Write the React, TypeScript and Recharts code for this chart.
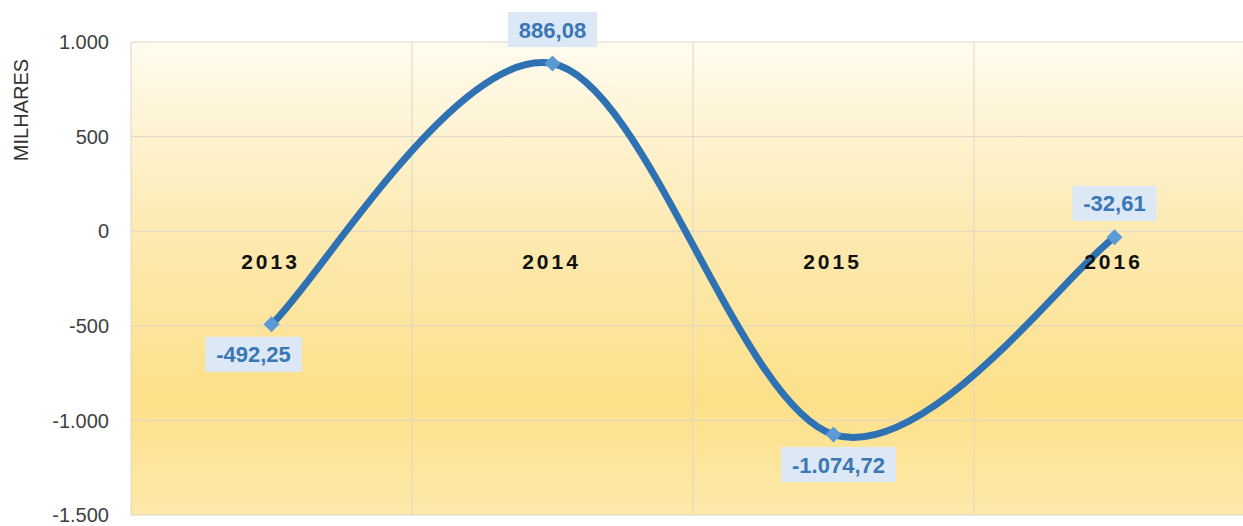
import React from 'react';
import { LineChart, Line, XAxis, YAxis, CartesianGrid, ReferenceDot, LabelList } from 'recharts';

const years = ['2013', '2014', '2015', '2016'];
const saldo = [-492.25, 886.08, -1074.72, -32.61];
const yTicks = [-1500, -1000, -500, 0, 500, 1000];

const data = years.map((year, i) => ({ year, pos: i + 0.5, saldo: saldo[i] }));

const FONT = '"Liberation Sans", Arial, sans-serif';

// pt-BR style: 1.000 / -1.074,72
const thousands = (s: string) => s.replace(/\B(?=(\d{3})+(?!\d))/g, '.');
const fmtTick = (v: number) => (v < 0 ? '-' : '') + thousands(String(Math.abs(v)));
const fmtValue = (v: number) => {
  const [int, dec] = Math.abs(v).toFixed(2).split('.');
  return (v < 0 ? '-' : '') + thousands(int) + ',' + dec;
};

// rough text width for bold Arial-like digits
const textWidth = (s: string, size: number) =>
  s.split('').reduce((w, c) => w + (/\d/.test(c) ? 0.556 : c === '-' ? 0.333 : 0.278), 0) * size;

// Catmull-Rom curve, close to Excel's "smoothed line"
const smoothCurve = (context: any) => {
  let pts: number[][] = [];
  return {
    areaStart() {},
    areaEnd() {},
    lineStart() {
      pts = [];
    },
    point(x: number, y: number) {
      pts.push([+x, +y]);
    },
    lineEnd() {
      const n = pts.length;
      if (!n) return;
      context.moveTo(pts[0][0], pts[0][1]);
      for (let i = 0; i < n - 1; i++) {
        const p0 = pts[Math.max(i - 1, 0)];
        const p1 = pts[i];
        const p2 = pts[i + 1];
        const p3 = pts[Math.min(i + 2, n - 1)];
        context.bezierCurveTo(
          p1[0] + (p2[0] - p0[0]) / 6,
          p1[1] + (p2[1] - p0[1]) / 6,
          p2[0] - (p3[0] - p1[0]) / 6,
          p2[1] - (p3[1] - p1[1]) / 6,
          p2[0],
          p2[1]
        );
      }
    },
  };
};

const Diamond = (props: any) => {
  const { cx, cy } = props;
  if (cx == null || cy == null) return null;
  const r = 8;
  return (
    <path
      d={`M${cx},${cy - r}L${cx + r},${cy}L${cx},${cy + r}L${cx - r},${cy}Z`}
      fill="#5b9bd5"
    />
  );
};

const ValueLabel = (props: any) => {
  const { x, y, index, value } = props;
  const prev = saldo[index - 1];
  const next = saldo[index + 1];
  // peaks get the label above, valleys below
  const above = (prev === undefined || value > prev) && (next === undefined || value > next);
  const text = fmtValue(value);
  const w = textWidth(text, 22) + 22;
  const h = 35;
  const cx = x + (index === 0 ? -18 : index === 2 ? 5 : 0);
  const cy = above ? y - 34 : y + 30;
  return (
    <g>
      <rect x={cx - w / 2} y={cy - h / 2} width={w} height={h} fill="#dce8f5" />
      <text
        x={cx}
        y={cy + 8}
        textAnchor="middle"
        fontFamily={FONT}
        fontSize={22}
        fontWeight="bold"
        fill="#3a77b4"
      >
        {text}
      </text>
    </g>
  );
};

const YearTick = (props: any) => {
  const { cx, cy, label } = props;
  return (
    <text
      x={cx - 1}
      y={cy + 38}
      textAnchor="middle"
      fontFamily={FONT}
      fontSize={21}
      fontWeight="bold"
      letterSpacing={3}
      fill="#111"
    >
      {label}
    </text>
  );
};

const AxisTitle = (props: any) => {
  const { viewBox } = props;
  const x = viewBox.x + 28;
  const y = viewBox.y + 68;
  return (
    <text
      x={x}
      y={y}
      transform={`rotate(-90, ${x}, ${y})`}
      textAnchor="middle"
      fontFamily={FONT}
      fontSize={20}
      fill="#333"
    >
      MILHARES
    </text>
  );
};

export default function App() {
  return (
    <div style={{ position: 'absolute', left: 0, top: 0, width: 1243, height: 526, overflow: 'hidden', background: '#fff' }}>
      <LineChart width={1262} height={526} data={data} margin={{ top: 42, right: 7, bottom: 11, left: 0 }}>
        <defs>
          <linearGradient id="plotBg" x1="0" y1="0" x2="0" y2="1">
            <stop offset="0%" stopColor="#fffbef" />
            <stop offset="40%" stopColor="#fdeab2" />
            <stop offset="76%" stopColor="#fde089" />
            <stop offset="100%" stopColor="#fde9ab" />
          </linearGradient>
        </defs>
        <CartesianGrid fill="url(#plotBg)" stroke="#dcd6c8" strokeWidth={1} />
        <XAxis type="number" dataKey="pos" domain={[0, 4]} ticks={[0, 1, 2, 3, 4]} hide />
        <YAxis
          domain={[-1500, 1000]}
          ticks={yTicks}
          interval={0}
          width={131}
          axisLine={false}
          tickLine={false}
          tickSize={0}
          tickMargin={22}
          tickFormatter={fmtTick}
          tick={{ fontFamily: FONT, fontSize: 20, fill: '#404040' }}
          label={<AxisTitle />}
        />
        {data.map((d) => (
          <ReferenceDot
            key={d.year}
            x={d.pos}
            y={0}
            r={0}
            ifOverflow="visible"
            shape={(p: any) => <YearTick {...p} label={d.year} />}
          />
        ))}
        <Line
          type={smoothCurve as any}
          dataKey="saldo"
          stroke="#2f72b3"
          strokeWidth={7}
          dot={<Diamond />}
          activeDot={false}
          isAnimationActive={false}
        >
          <LabelList dataKey="saldo" content={<ValueLabel />} />
        </Line>
      </LineChart>
    </div>
  );
}
